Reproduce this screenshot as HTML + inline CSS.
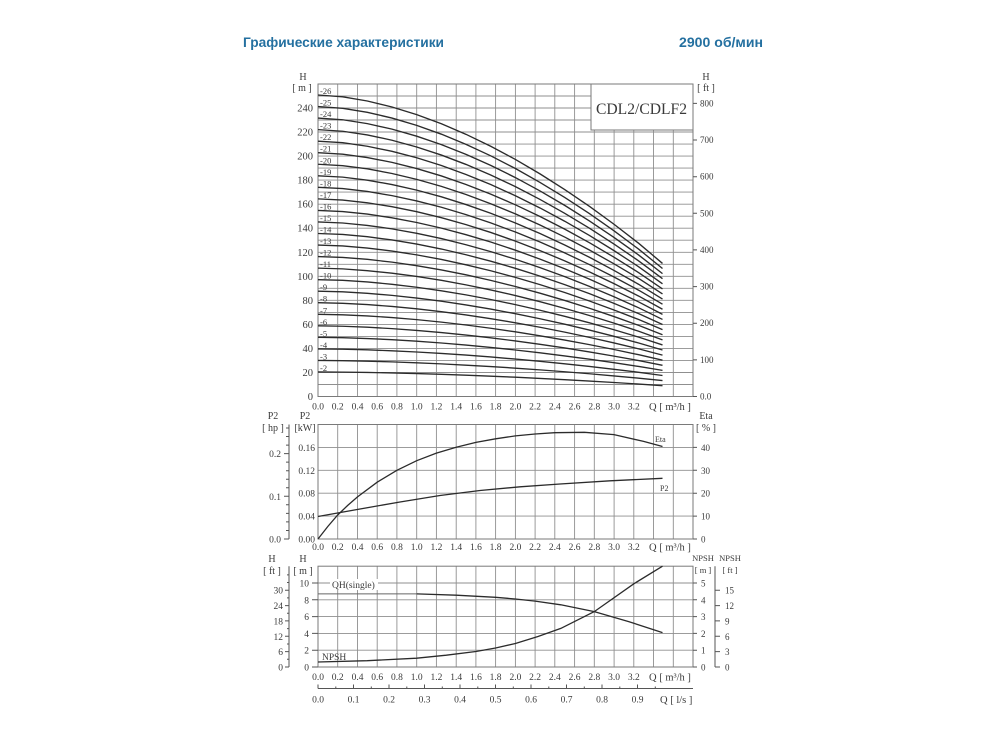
<!DOCTYPE html>
<html><head><meta charset="utf-8"><style>
html,body{margin:0;padding:0;background:#fff;}
svg{display:block;}
.t{font-family:"Liberation Serif","DejaVu Serif",serif;fill:#3a3a3a;}
</style></head><body>
<svg width="1000" height="748" viewBox="0 0 1000 748" xmlns="http://www.w3.org/2000/svg">
<rect width="1000" height="748" fill="#fff"/>
<text x="243" y="47" font-family="Liberation Sans, DejaVu Sans, sans-serif" font-weight="bold" font-size="14" fill="#2470a0" textLength="201" lengthAdjust="spacingAndGlyphs">Графические характеристики</text>
<text x="679" y="47" font-family="Liberation Sans, DejaVu Sans, sans-serif" font-weight="bold" font-size="14" fill="#2470a0" textLength="84" lengthAdjust="spacingAndGlyphs">2900 об/мин</text>

<g stroke="#8f8f8f" stroke-width="0.9" fill="none">
<path d="M337.7 84V396.5M357.5 84V396.5M377.2 84V396.5M396.9 84V396.5M416.7 84V396.5M436.4 84V396.5M456.2 84V396.5M475.9 84V396.5M495.6 84V396.5M515.4 84V396.5M535.1 84V396.5M554.8 84V396.5M574.6 84V396.5M594.3 84V396.5M614.1 84V396.5M633.8 84V396.5M653.5 84V396.5M673.3 84V396.5"/>
<path d="M318 384.5H693M318 372.5H693M318 360.4H693M318 348.4H693M318 336.4H693M318 324.4H693M318 312.4H693M318 300.3H693M318 288.3H693M318 276.3H693M318 264.3H693M318 252.3H693M318 240.2H693M318 228.2H693M318 216.2H693M318 204.2H693M318 192.1H693M318 180.1H693M318 168.1H693M318 156.1H693M318 144.1H693M318 132H693M318 120H693M318 108H693M318 96H693"/>
<path d="M337.7 424.5V539M357.5 424.5V539M377.2 424.5V539M396.9 424.5V539M416.7 424.5V539M436.4 424.5V539M456.2 424.5V539M475.9 424.5V539M495.6 424.5V539M515.4 424.5V539M535.1 424.5V539M554.8 424.5V539M574.6 424.5V539M594.3 424.5V539M614.1 424.5V539M633.8 424.5V539M653.5 424.5V539M673.3 424.5V539"/>
<path d="M318 447.4H693M318 470.3H693M318 493.2H693M318 516.1H693"/>
<path d="M337.7 566.2V667M357.5 566.2V667M377.2 566.2V667M396.9 566.2V667M416.7 566.2V667M436.4 566.2V667M456.2 566.2V667M475.9 566.2V667M495.6 566.2V667M515.4 566.2V667M535.1 566.2V667M554.8 566.2V667M574.6 566.2V667M594.3 566.2V667M614.1 566.2V667M633.8 566.2V667M653.5 566.2V667M673.3 566.2V667"/>
<path d="M318 583H693M318 599.8H693M318 616.6H693M318 633.4H693M318 650.2H693"/>
</g>
<g stroke="#7a7a7a" stroke-width="1" fill="none">
<rect x="318" y="84" width="375" height="312.5"/>
<rect x="318" y="424.5" width="375" height="114.5"/>
<rect x="318" y="566.2" width="375" height="100.8"/>
</g>
<rect x="591" y="84" width="102" height="46" fill="#fff" stroke="#7a7a7a" stroke-width="1"/>
<text class="t" x="596" y="114" font-size="15.6" textLength="91" lengthAdjust="spacingAndGlyphs" fill="#333">CDL2/CDLF2</text>

<!-- stage curves -->
<g stroke="#2b2b2b" stroke-width="1.35" fill="none">
<path vector-effect="non-scaling-stroke" transform="translate(0,396.5) scale(1,0.24523)" d="M318 -100L342.7 -99.4L367.3 -98.02L392 -96.03L416.7 -93.5L441.4 -90.47L466 -86.96L490.7 -83.01L515.4 -78.63L540 -73.84L564.7 -68.65L589.4 -63.08L614 -57.13L638.7 -50.81L662.5 -44.14"/>
<path vector-effect="non-scaling-stroke" transform="translate(0,396.5) scale(1,0.36063)" d="M318 -100L342.7 -99.4L367.3 -98.02L392 -96.03L416.7 -93.5L441.4 -90.47L466 -86.96L490.7 -83.01L515.4 -78.63L540 -73.84L564.7 -68.65L589.4 -63.08L614 -57.13L638.7 -50.81L662.5 -44.14"/>
<path vector-effect="non-scaling-stroke" transform="translate(0,396.5) scale(1,0.47603)" d="M318 -100L342.7 -99.4L367.3 -98.02L392 -96.03L416.7 -93.5L441.4 -90.47L466 -86.96L490.7 -83.01L515.4 -78.63L540 -73.84L564.7 -68.65L589.4 -63.08L614 -57.13L638.7 -50.81L662.5 -44.14"/>
<path vector-effect="non-scaling-stroke" transform="translate(0,396.5) scale(1,0.59143)" d="M318 -100L342.7 -99.4L367.3 -98.02L392 -96.03L416.7 -93.5L441.4 -90.47L466 -86.96L490.7 -83.01L515.4 -78.63L540 -73.84L564.7 -68.65L589.4 -63.08L614 -57.13L638.7 -50.81L662.5 -44.14"/>
<path vector-effect="non-scaling-stroke" transform="translate(0,396.5) scale(1,0.70683)" d="M318 -100L342.7 -99.4L367.3 -98.02L392 -96.03L416.7 -93.5L441.4 -90.47L466 -86.96L490.7 -83.01L515.4 -78.63L540 -73.84L564.7 -68.65L589.4 -63.08L614 -57.13L638.7 -50.81L662.5 -44.14"/>
<path vector-effect="non-scaling-stroke" transform="translate(0,396.5) scale(1,0.82224)" d="M318 -100L342.7 -99.4L367.3 -98.02L392 -96.03L416.7 -93.5L441.4 -90.47L466 -86.96L490.7 -83.01L515.4 -78.63L540 -73.84L564.7 -68.65L589.4 -63.08L614 -57.13L638.7 -50.81L662.5 -44.14"/>
<path vector-effect="non-scaling-stroke" transform="translate(0,396.5) scale(1,0.93764)" d="M318 -100L342.7 -99.4L367.3 -98.02L392 -96.03L416.7 -93.5L441.4 -90.47L466 -86.96L490.7 -83.01L515.4 -78.63L540 -73.84L564.7 -68.65L589.4 -63.08L614 -57.13L638.7 -50.81L662.5 -44.14"/>
<path vector-effect="non-scaling-stroke" transform="translate(0,396.5) scale(1,1.05304)" d="M318 -100L342.7 -99.4L367.3 -98.02L392 -96.03L416.7 -93.5L441.4 -90.47L466 -86.96L490.7 -83.01L515.4 -78.63L540 -73.84L564.7 -68.65L589.4 -63.08L614 -57.13L638.7 -50.81L662.5 -44.14"/>
<path vector-effect="non-scaling-stroke" transform="translate(0,396.5) scale(1,1.16844)" d="M318 -100L342.7 -99.4L367.3 -98.02L392 -96.03L416.7 -93.5L441.4 -90.47L466 -86.96L490.7 -83.01L515.4 -78.63L540 -73.84L564.7 -68.65L589.4 -63.08L614 -57.13L638.7 -50.81L662.5 -44.14"/>
<path vector-effect="non-scaling-stroke" transform="translate(0,396.5) scale(1,1.28384)" d="M318 -100L342.7 -99.4L367.3 -98.02L392 -96.03L416.7 -93.5L441.4 -90.47L466 -86.96L490.7 -83.01L515.4 -78.63L540 -73.84L564.7 -68.65L589.4 -63.08L614 -57.13L638.7 -50.81L662.5 -44.14"/>
<path vector-effect="non-scaling-stroke" transform="translate(0,396.5) scale(1,1.39924)" d="M318 -100L342.7 -99.4L367.3 -98.02L392 -96.03L416.7 -93.5L441.4 -90.47L466 -86.96L490.7 -83.01L515.4 -78.63L540 -73.84L564.7 -68.65L589.4 -63.08L614 -57.13L638.7 -50.81L662.5 -44.14"/>
<path vector-effect="non-scaling-stroke" transform="translate(0,396.5) scale(1,1.51465)" d="M318 -100L342.7 -99.4L367.3 -98.02L392 -96.03L416.7 -93.5L441.4 -90.47L466 -86.96L490.7 -83.01L515.4 -78.63L540 -73.84L564.7 -68.65L589.4 -63.08L614 -57.13L638.7 -50.81L662.5 -44.14"/>
<path vector-effect="non-scaling-stroke" transform="translate(0,396.5) scale(1,1.63005)" d="M318 -100L342.7 -99.4L367.3 -98.02L392 -96.03L416.7 -93.5L441.4 -90.47L466 -86.96L490.7 -83.01L515.4 -78.63L540 -73.84L564.7 -68.65L589.4 -63.08L614 -57.13L638.7 -50.81L662.5 -44.14"/>
<path vector-effect="non-scaling-stroke" transform="translate(0,396.5) scale(1,1.74545)" d="M318 -100L342.7 -99.4L367.3 -98.02L392 -96.03L416.7 -93.5L441.4 -90.47L466 -86.96L490.7 -83.01L515.4 -78.63L540 -73.84L564.7 -68.65L589.4 -63.08L614 -57.13L638.7 -50.81L662.5 -44.14"/>
<path vector-effect="non-scaling-stroke" transform="translate(0,396.5) scale(1,1.86085)" d="M318 -100L342.7 -99.4L367.3 -98.02L392 -96.03L416.7 -93.5L441.4 -90.47L466 -86.96L490.7 -83.01L515.4 -78.63L540 -73.84L564.7 -68.65L589.4 -63.08L614 -57.13L638.7 -50.81L662.5 -44.14"/>
<path vector-effect="non-scaling-stroke" transform="translate(0,396.5) scale(1,1.97625)" d="M318 -100L342.7 -99.4L367.3 -98.02L392 -96.03L416.7 -93.5L441.4 -90.47L466 -86.96L490.7 -83.01L515.4 -78.63L540 -73.84L564.7 -68.65L589.4 -63.08L614 -57.13L638.7 -50.81L662.5 -44.14"/>
<path vector-effect="non-scaling-stroke" transform="translate(0,396.5) scale(1,2.09165)" d="M318 -100L342.7 -99.4L367.3 -98.02L392 -96.03L416.7 -93.5L441.4 -90.47L466 -86.96L490.7 -83.01L515.4 -78.63L540 -73.84L564.7 -68.65L589.4 -63.08L614 -57.13L638.7 -50.81L662.5 -44.14"/>
<path vector-effect="non-scaling-stroke" transform="translate(0,396.5) scale(1,2.20706)" d="M318 -100L342.7 -99.4L367.3 -98.02L392 -96.03L416.7 -93.5L441.4 -90.47L466 -86.96L490.7 -83.01L515.4 -78.63L540 -73.84L564.7 -68.65L589.4 -63.08L614 -57.13L638.7 -50.81L662.5 -44.14"/>
<path vector-effect="non-scaling-stroke" transform="translate(0,396.5) scale(1,2.32246)" d="M318 -100L342.7 -99.4L367.3 -98.02L392 -96.03L416.7 -93.5L441.4 -90.47L466 -86.96L490.7 -83.01L515.4 -78.63L540 -73.84L564.7 -68.65L589.4 -63.08L614 -57.13L638.7 -50.81L662.5 -44.14"/>
<path vector-effect="non-scaling-stroke" transform="translate(0,396.5) scale(1,2.43786)" d="M318 -100L342.7 -99.4L367.3 -98.02L392 -96.03L416.7 -93.5L441.4 -90.47L466 -86.96L490.7 -83.01L515.4 -78.63L540 -73.84L564.7 -68.65L589.4 -63.08L614 -57.13L638.7 -50.81L662.5 -44.14"/>
<path vector-effect="non-scaling-stroke" transform="translate(0,396.5) scale(1,2.55326)" d="M318 -100L342.7 -99.4L367.3 -98.02L392 -96.03L416.7 -93.5L441.4 -90.47L466 -86.96L490.7 -83.01L515.4 -78.63L540 -73.84L564.7 -68.65L589.4 -63.08L614 -57.13L638.7 -50.81L662.5 -44.14"/>
<path vector-effect="non-scaling-stroke" transform="translate(0,396.5) scale(1,2.66866)" d="M318 -100L342.7 -99.4L367.3 -98.02L392 -96.03L416.7 -93.5L441.4 -90.47L466 -86.96L490.7 -83.01L515.4 -78.63L540 -73.84L564.7 -68.65L589.4 -63.08L614 -57.13L638.7 -50.81L662.5 -44.14"/>
<path vector-effect="non-scaling-stroke" transform="translate(0,396.5) scale(1,2.78406)" d="M318 -100L342.7 -99.4L367.3 -98.02L392 -96.03L416.7 -93.5L441.4 -90.47L466 -86.96L490.7 -83.01L515.4 -78.63L540 -73.84L564.7 -68.65L589.4 -63.08L614 -57.13L638.7 -50.81L662.5 -44.14"/>
<path vector-effect="non-scaling-stroke" transform="translate(0,396.5) scale(1,2.89947)" d="M318 -100L342.7 -99.4L367.3 -98.02L392 -96.03L416.7 -93.5L441.4 -90.47L466 -86.96L490.7 -83.01L515.4 -78.63L540 -73.84L564.7 -68.65L589.4 -63.08L614 -57.13L638.7 -50.81L662.5 -44.14"/>
<path vector-effect="non-scaling-stroke" transform="translate(0,396.5) scale(1,3.01487)" d="M318 -100L342.7 -99.4L367.3 -98.02L392 -96.03L416.7 -93.5L441.4 -90.47L466 -86.96L490.7 -83.01L515.4 -78.63L540 -73.84L564.7 -68.65L589.4 -63.08L614 -57.13L638.7 -50.81L662.5 -44.14"/>
</g>

<!-- stage labels -->
<g class="t" font-size="8.5">
<text x="320" y="371">-2</text><text x="320" y="359.4">-3</text><text x="320" y="347.9">-4</text><text x="320" y="336.4">-5</text><text x="320" y="324.8">-6</text><text x="320" y="313.3">-7</text><text x="320" y="301.7">-8</text><text x="320" y="290.2">-9</text><text x="320" y="278.7">-10</text><text x="320" y="267.1">-11</text><text x="320" y="255.6">-12</text><text x="320" y="244">-13</text><text x="320" y="232.5">-14</text><text x="320" y="221">-15</text><text x="320" y="209.4">-16</text><text x="320" y="197.9">-17</text><text x="320" y="186.3">-18</text><text x="320" y="174.8">-19</text><text x="320" y="163.3">-20</text><text x="320" y="151.7">-21</text><text x="320" y="140.2">-22</text><text x="320" y="128.6">-23</text><text x="320" y="117.1">-24</text><text x="320" y="105.6">-25</text><text x="320" y="94">-26</text>
</g>

<!-- top chart axis labels -->
<g class="t" font-size="10.5" text-anchor="end">
<text x="313" y="400">0</text><text x="313" y="376">20</text><text x="313" y="351.9">40</text><text x="313" y="327.9">60</text><text x="313" y="303.8">80</text><text x="313" y="279.8">100</text><text x="313" y="255.8">120</text><text x="313" y="231.7">140</text><text x="313" y="207.7">160</text><text x="313" y="183.6">180</text><text x="313" y="159.6">200</text><text x="313" y="135.5">220</text><text x="313" y="111.5">240</text>
</g>
<g class="t" font-size="10" text-anchor="middle">
<text x="303" y="80">H</text><text x="302" y="91">[ m ]</text>
<text x="706" y="80">H</text><text x="706" y="91">[ ft ]</text>
</g>
<g stroke="#555" stroke-width="1"><path d="M693 396.5H697M693 359.9H697M693 323.2H697M693 286.6H697M693 249.9H697M693 213.3H697M693 176.7H697M693 140H697M693 103.4H697"/></g>
<g class="t" font-size="9">
<text x="700" y="399.5">0.0</text><text x="700" y="362.9">100</text><text x="700" y="326.2">200</text><text x="700" y="289.6">300</text><text x="700" y="252.9">400</text><text x="700" y="216.3">500</text><text x="700" y="179.7">600</text><text x="700" y="143">700</text><text x="700" y="106.4">800</text>
</g>
<g class="t" font-size="9.5" text-anchor="middle">
<text x="318" y="409.5">0.0</text><text x="337.7" y="409.5">0.2</text><text x="357.5" y="409.5">0.4</text><text x="377.2" y="409.5">0.6</text><text x="396.9" y="409.5">0.8</text><text x="416.7" y="409.5">1.0</text><text x="436.4" y="409.5">1.2</text><text x="456.2" y="409.5">1.4</text><text x="475.9" y="409.5">1.6</text><text x="495.6" y="409.5">1.8</text><text x="515.4" y="409.5">2.0</text><text x="535.1" y="409.5">2.2</text><text x="554.8" y="409.5">2.4</text><text x="574.6" y="409.5">2.6</text><text x="594.3" y="409.5">2.8</text><text x="614.1" y="409.5">3.0</text><text x="633.8" y="409.5">3.2</text>
</g>
<text class="t" x="649" y="410" font-size="10.5">Q [ m³/h ]</text>

<!-- middle chart -->
<g class="t" font-size="10" text-anchor="middle">
<text x="273" y="419">P2</text><text x="273" y="431">[ hp ]</text>
<text x="305" y="419">P2</text><text x="305" y="431">[kW]</text>
<text x="706" y="419">Eta</text><text x="706" y="431">[ % ]</text>
</g>
<g class="t" font-size="9.5" text-anchor="end">
<text x="315" y="542.5">0.00</text><text x="315" y="519.6">0.04</text><text x="315" y="496.7">0.08</text><text x="315" y="473.8">0.12</text><text x="315" y="450.9">0.16</text>
<text x="281" y="542.5">0.0</text><text x="281" y="499.8">0.1</text><text x="281" y="457.1">0.2</text>
</g>
<g stroke="#555" stroke-width="1" fill="none">
<path d="M289 424.5V539"/>
<path d="M284 539H289M284 496.3H289M284 453.6H289M286 530.5H289M286 521.9H289M286 513.4H289M286 504.8H289M286 487.8H289M286 479.2H289M286 470.7H289M286 462.1H289M286 445.1H289M286 436.5H289M286 428H289"/>
<path d="M693 539H697M693 516.1H697M693 493.2H697M693 470.3H697M693 447.4H697"/>
</g>
<g class="t" font-size="9">
<text x="701" y="542.5">0</text><text x="701" y="519.6">10</text><text x="701" y="496.7">20</text><text x="701" y="473.8">30</text><text x="701" y="450.9">40</text>
</g>
<g class="t" font-size="9.5" text-anchor="middle">
<text x="318" y="550">0.0</text><text x="337.7" y="550">0.2</text><text x="357.5" y="550">0.4</text><text x="377.2" y="550">0.6</text><text x="396.9" y="550">0.8</text><text x="416.7" y="550">1.0</text><text x="436.4" y="550">1.2</text><text x="456.2" y="550">1.4</text><text x="475.9" y="550">1.6</text><text x="495.6" y="550">1.8</text><text x="515.4" y="550">2.0</text><text x="535.1" y="550">2.2</text><text x="554.8" y="550">2.4</text><text x="574.6" y="550">2.6</text><text x="594.3" y="550">2.8</text><text x="614.1" y="550">3.0</text><text x="633.8" y="550">3.2</text>
</g>
<text class="t" x="649" y="550.5" font-size="10.5">Q [ m³/h ]</text>
<g stroke="#2b2b2b" stroke-width="1.3" fill="none">
<path d="M318 539L327.8 526.5L337.7 515L347.6 505.5L357.5 496.9L377.2 482.2L396.9 470.3L416.7 460.7L436.4 453.1L456.2 447.3L475.9 442.4L495.6 438.8L515.4 435.9L535.1 434L554.8 432.7L584.4 432.3L614 434.6L643.6 441.4L662.5 446.5"/>
<path d="M318 516.5L360 509L400 502L440 495.5L480 490.5L520 486.8L560 484L610 480.8L662.5 478.3"/>
</g>
<text class="t" x="655" y="442" font-size="8">Eta</text>
<text class="t" x="660" y="491" font-size="8">P2</text>

<!-- bottom chart -->
<g class="t" font-size="10" text-anchor="middle">
<text x="272" y="562">H</text><text x="272" y="574">[ ft ]</text>
<text x="303" y="562">H</text><text x="303" y="574">[ m ]</text>
</g>
<g class="t" font-size="8.5" text-anchor="middle">
<text x="703" y="561">NPSH</text><text x="730" y="561">NPSH</text>
<text x="703" y="573">[ m ]</text><text x="730" y="573">[ ft ]</text>
</g>
<g class="t" font-size="9.5" text-anchor="end">
<text x="309" y="670.5">0</text><text x="309" y="653.7">2</text><text x="309" y="636.9">4</text><text x="309" y="620.1">6</text><text x="309" y="603.3">8</text><text x="309" y="586.5">10</text>
<text x="283" y="670.5">0</text><text x="283" y="655.1">6</text><text x="283" y="639.8">12</text><text x="283" y="624.4">18</text><text x="283" y="609.1">24</text><text x="283" y="593.7">30</text>
</g>
<g stroke="#555" stroke-width="1" fill="none">
<path d="M312 667H318M312 650.2H318M312 633.4H318M312 616.6H318M312 599.8H318M312 583H318"/>
<path d="M289 566.2V667"/>
<path d="M285 667H289M285 651.6H289M285 636.3H289M285 620.9H289M285 605.6H289M285 590.2H289M287 659.3H289M287 644H289M287 628.6H289M287 613.2H289M287 597.9H289M287 582.5H289M287 574.9H289"/>
<path d="M693 667H697M693 650.2H697M693 633.4H697M693 616.6H697M693 599.8H697M693 583H697"/>
<path d="M715 566.2V667"/>
<path d="M715 667H720M715 651.6H720M715 636.3H720M715 620.9H720M715 605.6H720M715 590.2H720"/>
</g>
<g class="t" font-size="9">
<text x="701" y="670.5">0</text><text x="701" y="653.7">1</text><text x="701" y="636.9">2</text><text x="701" y="620.1">3</text><text x="701" y="603.3">4</text><text x="701" y="586.5">5</text>
<text x="725" y="670.5">0</text><text x="725" y="655.1">3</text><text x="725" y="639.8">6</text><text x="725" y="624.4">9</text><text x="725" y="609.1">12</text><text x="725" y="593.7">15</text>
</g>
<g class="t" font-size="9.5" text-anchor="middle">
<text x="318" y="680">0.0</text><text x="337.7" y="680">0.2</text><text x="357.5" y="680">0.4</text><text x="377.2" y="680">0.6</text><text x="396.9" y="680">0.8</text><text x="416.7" y="680">1.0</text><text x="436.4" y="680">1.2</text><text x="456.2" y="680">1.4</text><text x="475.9" y="680">1.6</text><text x="495.6" y="680">1.8</text><text x="515.4" y="680">2.0</text><text x="535.1" y="680">2.2</text><text x="554.8" y="680">2.4</text><text x="574.6" y="680">2.6</text><text x="594.3" y="680">2.8</text><text x="614.1" y="680">3.0</text><text x="633.8" y="680">3.2</text>
</g>
<text class="t" x="649" y="680.5" font-size="10.5">Q [ m³/h ]</text>

<g stroke="#666" stroke-width="1" fill="none"><path d="M318 593.9H416.7"/></g>
<g stroke="#2b2b2b" stroke-width="1.3" fill="none">
<path d="M416.7 593.9L456.2 595.2L495.6 597.3L515.4 599L535.1 601.1L560.8 604.8L594.3 611.6L628.7 621.6L662.5 632.6"/>
<path d="M318 662L367.3 660.7L416.7 658.2L446.3 655.2L475.9 651.5L495.6 648L515.4 643.5L538 636.5L560.8 628.4L594.3 611.6L633.8 583.8L662.5 566.2"/>
</g>
<rect x="330" y="579" width="48" height="11" fill="#fff"/>
<text class="t" x="332" y="588" font-size="9.5">QH(single)</text>
<text class="t" x="322" y="660" font-size="9.5">NPSH</text>

<!-- l/s axis -->
<g stroke="#555" stroke-width="1" fill="none">
<path d="M318 688.5H693"/>
<path d="M318 688.5V684.5M353.5 688.5V684.5M389 688.5V684.5M424.5 688.5V684.5M460 688.5V684.5M495.5 688.5V684.5M531 688.5V684.5M566.5 688.5V684.5M602 688.5V684.5M637.5 688.5V684.5M335.8 688.5V686.5M371.3 688.5V686.5M406.8 688.5V686.5M442.3 688.5V686.5M477.8 688.5V686.5M513.3 688.5V686.5M548.8 688.5V686.5M584.3 688.5V686.5M619.8 688.5V686.5M655.3 688.5V686.5"/>
</g>
<g class="t" font-size="9.5" text-anchor="middle">
<text x="318" y="702.5">0.0</text><text x="353.5" y="702.5">0.1</text><text x="389" y="702.5">0.2</text><text x="424.5" y="702.5">0.3</text><text x="460" y="702.5">0.4</text><text x="495.5" y="702.5">0.5</text><text x="531" y="702.5">0.6</text><text x="566.5" y="702.5">0.7</text><text x="602" y="702.5">0.8</text><text x="637.5" y="702.5">0.9</text>
</g>
<text class="t" x="660" y="703" font-size="10.5">Q [ l/s ]</text>
</svg>
</body></html>
